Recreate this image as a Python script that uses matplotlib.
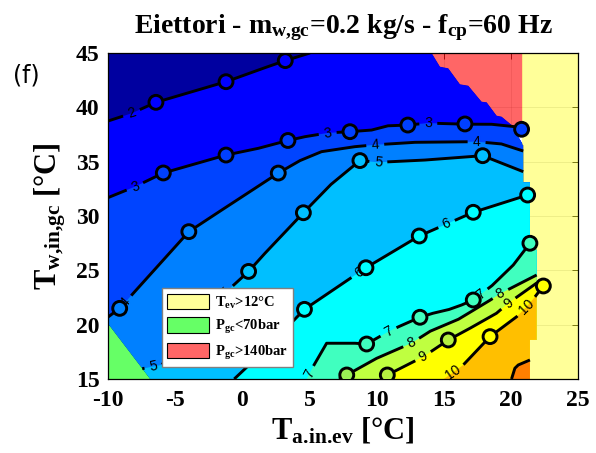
import numpy as np
import matplotlib
matplotlib.use('Agg')
import matplotlib.pyplot as plt
from matplotlib.patches import Polygon, Patch

plt.rcParams['mathtext.fontset'] = 'custom'
plt.rcParams['mathtext.rm'] = 'Liberation Serif:bold'
plt.rcParams['mathtext.bf'] = 'Liberation Serif:bold'
plt.rcParams['mathtext.it'] = 'Liberation Serif:bold'
plt.rcParams['axes.unicode_minus'] = False

# axes
x_ticks = [-10, -5, 0, 5, 10, 15, 20, 25]
y_ticks = [15, 20, 25, 30, 35, 40, 45]

# contour levels and the colour of the band above each one (first = below 2)
levels = [2, 3, 4, 5, 6, 7, 8, 9, 10, 11]
band_colors = ['#0000A0', '#0000FF', '#0044FF', '#0080FF', '#00BFFF', '#00FFFF',
               '#40FFBF', '#BFFF40', '#FFFF00', '#FFBF00', '#FF7F00']

# contour lines
c2_x = [-10, -8.24, -6.43, -1.21, 1.69, 3.2, 5.04]
c2_y = [38.74, 39.45, 40.46, 42.36, 43.65, 44.3, 45.0]
c3_x = [-10, -7.99, -5.88, -1.21, 1.2, 3.4, 4.67, 6.4, 8.02, 9.63, 10.85, 12.33, 13.8, 16.58, 18.57, 20.3, 20.8]
c3_y = [31.69, 32.7, 33.96, 35.61, 36.23, 36.95, 37.3, 37.65, 37.76, 37.91, 38.3, 38.37, 38.55, 38.45, 38.44, 38.22, 37.95]
c4_x = [-10, -9.13, -3.98, -1.53, 0.95, 2.68, 4.3, 5.9, 8.39, 9.88, 12.86, 17.45, 19.3, 20.92]
c4_y = [20.7, 21.5, 28.56, 30.55, 32.55, 33.95, 35.1, 35.92, 36.38, 36.55, 36.78, 36.84, 36.63, 35.98]
c5_x = [-7.45, -6.0, -3.5, -1.04, 0.47, 1.69, 4.55, 6.6, 8.76, 10.13, 13.6, 17.9, 20.92]
c5_y = [15.95, 16.3, 19.8, 23.19, 24.9, 26.57, 30.3, 32.9, 35.1, 34.94, 35.15, 35.55, 34.08]
c6_x = [-0.6, 1.69, 4.63, 9.21, 13.18, 17.2, 21.25]
c6_y = [15.0, 17.67, 21.41, 25.24, 28.16, 30.34, 31.93]
c7_x = [4.8, 5.3, 6.28, 8.39, 9.26, 10.88, 11.62, 13.23, 14.2, 15.4, 16.33, 17.2, 18.6, 20.18, 21.42]
c7_y = [15.0, 16.2, 18.29, 18.29, 18.22, 19.36, 19.8, 20.68, 21.05, 21.4, 21.81, 22.27, 23.6, 25.49, 27.49]
c8_x = [7.2, 7.78, 10.0, 12.6, 14.0, 16.1, 18.45, 19.2, 21.92]
c8_y = [15.0, 15.37, 16.9, 18.3, 19.4, 20.5, 22.25, 22.85, 24.57]
c9_x = [10.4, 10.8, 13.48, 15.34, 17.0, 18.93, 19.8, 21.92]
c9_y = [15.0, 15.37, 17.05, 18.59, 19.7, 21.05, 21.97, 23.83]
c10_x = [15.0, 15.7, 16.45, 18.45, 20.43, 21.17, 21.8, 22.42]
c10_y = [15.0, 15.6, 16.29, 18.9, 20.73, 21.65, 22.57, 23.56]
c11_x = [20.05, 20.3, 20.55, 21.42]
c11_y = [15.0, 15.99, 16.29, 16.75]

lines = {2: (c2_x, c2_y), 3: (c3_x, c3_y), 4: (c4_x, c4_y), 5: (c5_x, c5_y),
         6: (c6_x, c6_y), 7: (c7_x, c7_y), 8: (c8_x, c8_y), 9: (c9_x, c9_y),
         10: (c10_x, c10_y), 11: (c11_x, c11_y)}

# circle markers
m_level = [2, 2, 2, 3, 3, 3, 3, 3, 3, 3, 4, 4, 4, 5, 5, 5, 5, 6, 6, 6, 6, 6, 7, 7, 7, 7, 8, 9, 9, 10, 10]
m_x = [-6.43, -1.21, 3.2, -5.88, -1.21, 3.4, 8.02, 12.33, 16.58, 20.8, -9.13, -3.98, 2.68,
       0.47, 4.55, 8.76, 17.9, 4.63, 9.21, 13.18, 17.2, 21.25, 9.26, 13.23, 17.2, 21.42,
       7.78, 10.8, 15.34, 18.45, 22.42]
m_y = [40.46, 42.36, 44.3, 33.96, 35.61, 36.95, 37.76, 38.37, 38.47, 37.98, 21.5, 28.56, 33.95,
       24.9, 30.3, 35.1, 35.55, 21.41, 25.24, 28.16, 30.34, 31.93, 18.22, 20.68, 22.27, 27.49,
       15.37, 15.37, 18.59, 18.9, 23.56]
mk_colors = {2: '#0000FF', 3: '#0040FF', 4: '#0080FF', 5: '#00BFFF', 6: '#00FFFF',
             7: '#40FFBF', 8: '#99EE55', 9: '#B5F040', 10: '#FFFF00'}

# contour labels
lab_level = [2, 3, 3, 3, 4, 4, 4, 5, 5, 5, 6, 6, 7, 7, 7, 8, 8, 9, 9, 10, 10]
lab_x = [-8.24, -7.99, 6.35, 13.85, -8.75, 9.9, 17.45, -6.62, -1.1, 10.13, 8.64, 15.2,
         4.95, 10.88, 17.6, 12.6, 19.19, 13.48, 19.8, 15.7, 21.17]
lab_y = [39.45, 32.7, 37.68, 38.55, 22.1, 36.55, 36.84, 16.13, 22.9, 34.94, 24.88, 29.3,
         15.5, 19.36, 23.0, 18.3, 22.89, 17.05, 21.97, 15.6, 21.65]

# regions
valid_x = [-10, -10, 14.1, 14.72, 15.34, 16.21, 16.83, 17.82, 18.2, 18.94, 19.31, 20.3, 20.45,
           20.92, 20.92, 21.42, 21.42, 21.92, 21.92, 21.42, 21.42, -6.85]
valid_y = [20.1, 45, 45, 43.74, 43.59, 42.12, 41.99, 40.52, 40.46, 39.23, 39.14, 38.13, 37.5,
           36.5, 33.1, 33.1, 26.9, 26.9, 18.6, 18.6, 15, 15]
red_x = [14.1, 14.72, 15.34, 16.21, 16.83, 17.82, 18.2, 18.94, 19.31, 20.3, 20.85, 20.85]
red_y = [45, 43.74, 43.59, 42.12, 41.99, 40.52, 40.46, 39.23, 39.14, 38.13, 37.82, 45]
yel_x = [20.8, 20.8, 20.92, 20.92, 21.42, 21.42, 21.92, 21.92, 21.42, 21.42, 25, 25]
yel_y = [45, 36.5, 36.5, 33.1, 33.1, 26.9, 26.9, 18.6, 18.6, 15, 15, 45]
grn_x = [-10, -10, -6.85]
grn_y = [15, 20.1, 15]

fig = plt.figure(figsize=(5.96, 4.53), dpi=100)
ax = fig.add_axes([108 / 596, 1 - 379 / 453, 470 / 596, 326 / 453])
ax.set_xlim(-10, 25)
ax.set_ylim(15, 45)
ax.set_axisbelow(True)
ax.grid(True, color='#262626', alpha=0.15, lw=0.6)

valid = Polygon(np.column_stack([valid_x, valid_y]), closed=True, transform=ax.transData)
ax.add_patch(Polygon(np.column_stack([valid_x, valid_y]), fc=band_colors[0], ec='none', zorder=1))
for i, lv in enumerate(levels):
    xs, ys = lines[lv]
    px = list(xs) + [30, 30, xs[0]]
    py = list(ys) + [ys[-1], 10, 10]
    p = Polygon(np.column_stack([px, py]), fc=band_colors[i + 1], ec='none', zorder=1)
    ax.add_patch(p)
    p.set_clip_path(valid)

# masked regions
ax.add_patch(Polygon(np.column_stack([red_x, red_y]), fc='red', alpha=0.6, ec='none', zorder=2))
ax.add_patch(Polygon(np.column_stack([yel_x, yel_y]), fc='yellow', alpha=0.4, ec='none', zorder=2))
ax.add_patch(Polygon(np.column_stack([grn_x, grn_y]), fc=(0, 1, 0), alpha=0.6, ec='none', zorder=2))


def draw_line(lv, xs, ys):
    pts = ax.transData.transform(np.column_stack([xs, ys]))
    d = np.hypot(*np.diff(pts, axis=0).T)
    s = np.concatenate([[0], np.cumsum(d)])
    cuts = []
    for x, y, l in zip(lab_x, lab_y, lab_level):
        if l != lv:
            continue
        q = ax.transData.transform((x, y))
        best = None
        for k in range(len(pts) - 1):
            a, b = pts[k], pts[k + 1]
            t = np.clip(np.dot(q - a, b - a) / np.dot(b - a, b - a), 0, 1)
            c = a + t * (b - a)
            dist = np.hypot(*(q - c))
            if best is None or dist < best[0]:
                best = (dist, s[k] + t * d[k], c, b - a)
        _, s0, c, v = best
        ang = np.degrees(np.arctan2(v[1], v[0]))
        if ang > 90:
            ang -= 180
        if ang < -90:
            ang += 180
        txt = str(lv)
        half = 5 + 4 * len(txt)
        cuts.append((s0 - half, s0 + half))
        cx, cy = ax.transData.inverted().transform(c)
        ax.text(cx, cy, txt, rotation=ang, rotation_mode='anchor', ha='center', va='center',
                fontsize=10, family='Liberation Sans', zorder=3.5)
    cuts.sort()
    pieces = []
    start = 0
    for a, b in cuts:
        pieces.append((start, max(a, start)))
        start = b
    pieces.append((start, s[-1]))
    for a, b in pieces:
        if b <= a:
            continue
        inner = [s[k] for k in range(len(s)) if a < s[k] < b]
        sx = [a] + inner + [b]
        px = np.interp(sx, s, pts[:, 0])
        py = np.interp(sx, s, pts[:, 1])
        dd = ax.transData.inverted().transform(np.column_stack([px, py]))
        ax.plot(dd[:, 0], dd[:, 1], color='k', lw=2.1, solid_capstyle='butt', zorder=3)


for lv in levels:
    draw_line(lv, *lines[lv])

ax.scatter(m_x, m_y, s=100, c=[mk_colors[l] for l in m_level], edgecolors='k',
           linewidths=2.1, zorder=4)

serif = {'family': 'Liberation Serif', 'weight': 'bold'}
ax.set_xticks(x_ticks)
ax.set_yticks(y_ticks)
ax.set_xticklabels([str(v) for v in x_ticks], fontdict=serif, fontsize=17)
ax.set_yticklabels([str(v) for v in y_ticks], fontdict=serif, fontsize=17)
ax.tick_params(direction='in', top=True, right=True, length=4, width=0.6)
ax.tick_params(axis='x', pad=8)
ax.tick_params(axis='y', pad=6)
for sp in ax.spines.values():
    sp.set_linewidth(0.9)

ax.set_xlabel(r'T$_{\mathbf{a.\!in.\!ev}}$ [°C]', fontdict=serif, fontsize=22, labelpad=3)
ax.set_ylabel(r'T$_{\mathbf{w{,}in{,}gc}}$ [°C]', fontdict=serif, fontsize=22, labelpad=6)
ax.set_title(r'Eiettori - m$_{\mathbf{w{,}gc}}$=0.2 kg/s - f$_{\mathbf{cp}}$=60 Hz',
             fontdict=serif, fontsize=20, pad=14)

fig.text(26 / 596, 1 - 76 / 453, '(f)', fontsize=17, family='DejaVu Sans', ha='center', va='center')

handles = [Patch(fc='#FFFF99', ec='k', lw=0.8), Patch(fc='#66FF66', ec='k', lw=0.8),
           Patch(fc='#FF6666', ec='k', lw=0.8)]
leg_labels = [r'T$_{\mathbf{ev}}$>12°C', r'P$_{\mathbf{gc}}$<70bar', r'P$_{\mathbf{gc}}$>140bar']
leg = ax.legend(handles, leg_labels, loc='lower left', bbox_to_anchor=(0.114, 0.038),
                borderaxespad=0, frameon=True, fancybox=False, framealpha=1,
                edgecolor='#808080', prop={'family': 'Liberation Serif', 'weight': 'bold', 'size': 10.5},
                handlelength=2.9, handleheight=1.3, labelspacing=0.45, borderpad=0.35,
                handletextpad=0.4)
leg.set_zorder(6)
leg.get_frame().set_linewidth(1.0)

fig.savefig('out.png', dpi=100)
